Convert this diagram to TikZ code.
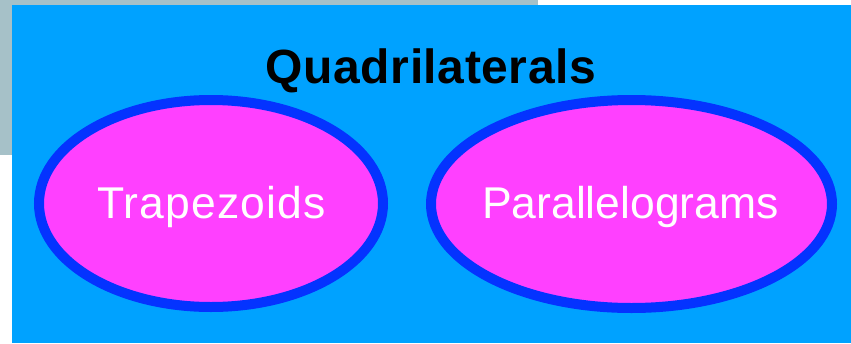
\documentclass[tikz,border=0pt]{standalone}
\usepackage{fontspec}
\setmainfont{Liberation Sans}
\usetikzlibrary{shapes.geometric}
\definecolor{panelgrey}{HTML}{A6C1C8}
\definecolor{skyblue}{HTML}{00A2FF}
\definecolor{ringblue}{HTML}{0433FF}
\definecolor{pinkfill}{HTML}{FF40FF}
\tikzset{
  setoval/.style={ellipse, draw=ringblue, fill=pinkfill, line width=10pt, inner sep=0pt},
  setlabel/.style={anchor=base, text=white, font=\fontsize{44.5}{50}\selectfont, inner sep=0pt},
  titlelabel/.style={anchor=base, text=black, font=\fontsize{48}{54}\selectfont\bfseries\addfontfeature{LetterSpace=1.2}, inner sep=0pt}
}
\begin{document}
\begin{tikzpicture}[x=1pt,y=-1pt]
  % page frame
  \fill[white] (0,0) rectangle (851,343);
  \useasboundingbox (0,0) rectangle (851,343);
  % grey panel behind the set box
  \fill[panelgrey] (0,0) rectangle (538,155);
  % the universe box
  \fill[skyblue] (12,5) rectangle (851,343);
  \node[titlelabel] (title) at (431,83) {Quadrilaterals};
  % the two subsets
  \node[setoval, minimum width=344pt, minimum height=207pt] (trap) at (211,203.5) {};
  \node[setoval, minimum width=401pt, minimum height=208pt] (para) at (631.5,204) {};
  \node[setlabel, font=\fontsize{44.5}{50}\selectfont\addfontfeature{LetterSpace=2.5}] (traplabel) at (211.5,218) {Trapezoids};
  \node[setlabel] (paralabel) at (630.5,218) {Parallelograms};
\end{tikzpicture}
\end{document}
